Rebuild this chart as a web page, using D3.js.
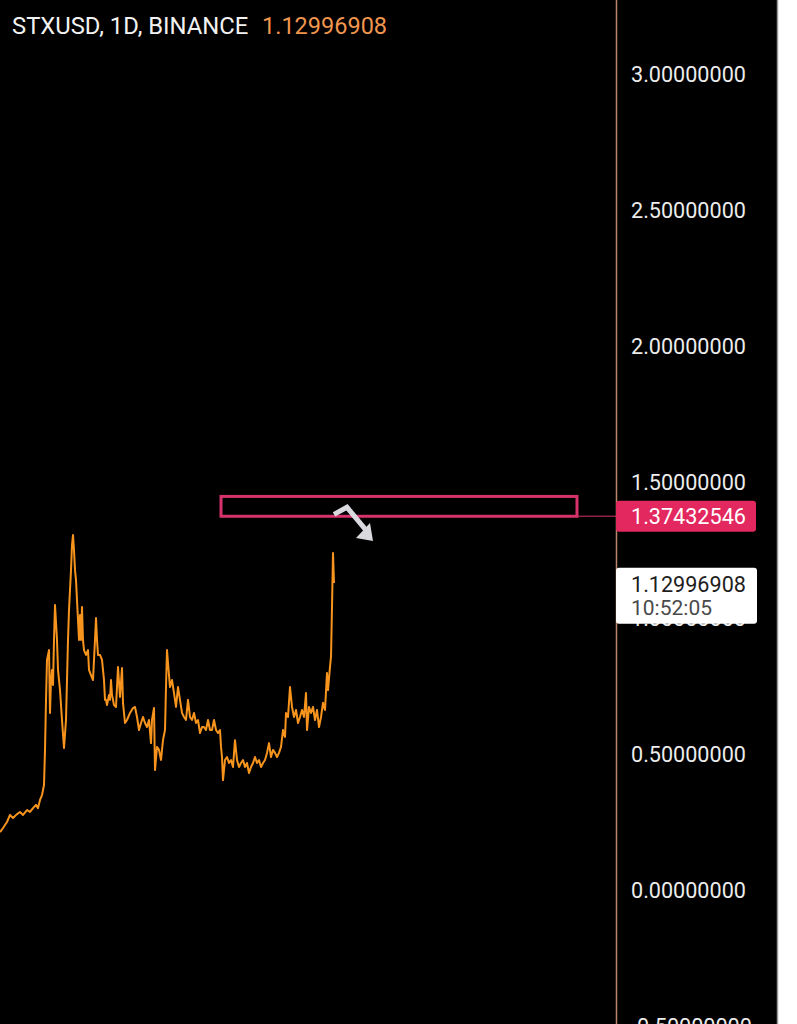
<!DOCTYPE html>
<html>
<head>
<meta charset="utf-8">
<script src="https://cdn.jsdelivr.net/npm/d3@7"></script>
<style>
  html, body { margin: 0; padding: 0; background: #fff; }
  svg { display: block; }
</style>
</head>
<body>
<svg id="chart"></svg>
<script>
const width = 797, height = 1024;
const bg_color = "#000000", line_color = "#f7941d", axis_color = "#b9826a";
const label_color = "#ececec", zone_color = "#d6336c", arrow_color = "#d9d9de";
const font_family = "Roboto, 'Noto Sans', sans-serif";

// header
const symbolTitle = "STXUSD, 1D, BINANCE";
const lastPrice = 1.12996908;
const lastTime = "10:52:05";
const zonePrice = 1.37432546;

// price axis ticks
const tickValues = [3.0, 2.5, 2.0, 1.5, 1.0, 0.5, 0.0, -0.5];

// daily closes (day offset from first visible bar)
const days = [0, 3, 7, 10, 13, 17, 20, 23, 27, 30, 33, 36, 38, 40, 42, 44, 45, 46, 47, 48,
  49, 50, 51, 52, 53, 54, 55, 57, 58, 60, 62, 64, 66, 67, 68, 69, 70, 71, 72, 73,
  74, 75, 76, 77, 78, 79, 80, 81, 82, 83, 84, 86, 88, 89, 91, 93, 94, 95, 96, 97,
  98, 100, 102, 104, 105, 106, 107, 109, 110, 111, 112, 113, 114, 116, 118, 120, 122, 123, 125, 127,
  130, 133, 135, 137, 139, 141, 143, 145, 147, 149, 151, 152, 154, 155, 157, 159, 161, 163, 165, 166,
  167, 168, 170, 172, 174, 176, 178, 180, 182, 184, 186, 188, 190, 192, 194, 196, 198, 200, 202, 204,
  206, 208, 210, 212, 214, 216, 218, 220, 221, 222, 223, 225, 227, 229, 231, 233, 235, 237, 239, 241,
  243, 245, 247, 249, 251, 253, 255, 257, 259, 261, 263, 265, 267, 269, 271, 273, 275, 277, 279, 281,
  283, 285, 286, 288, 290, 292, 294, 296, 298, 300, 302, 304, 306, 307, 309, 311, 313, 315, 317, 319,
  321, 323, 325, 327, 328, 330, 331, 332, 333, 334];
const closes = [0.213, 0.228, 0.250, 0.276, 0.265, 0.279, 0.287, 0.276, 0.294, 0.287, 0.301, 0.313, 0.301, 0.331, 0.349, 0.386, 0.515, 0.699, 0.846, 0.864,
  0.882, 0.651, 0.772, 0.809, 0.754, 0.919, 1.048, 0.919, 0.809, 0.735, 0.625, 0.522, 0.625, 0.772, 0.919, 1.029, 1.103, 1.176, 1.268, 1.305,
  1.250, 1.176, 1.140, 1.066, 0.993, 0.919, 1.011, 0.919, 1.040, 0.919, 0.882, 0.864, 0.882, 0.809, 0.790, 0.772, 0.846, 0.919, 1.000, 0.919,
  0.864, 0.864, 0.846, 0.772, 0.699, 0.699, 0.680, 0.717, 0.699, 0.772, 0.717, 0.699, 0.680, 0.673, 0.820, 0.710, 0.816, 0.688, 0.614, 0.625,
  0.651, 0.669, 0.673, 0.636, 0.588, 0.614, 0.636, 0.614, 0.599, 0.625, 0.540, 0.625, 0.669, 0.441, 0.526, 0.515, 0.478, 0.551, 0.588, 0.746,
  0.882, 0.835, 0.746, 0.772, 0.724, 0.673, 0.746, 0.699, 0.651, 0.636, 0.625, 0.699, 0.636, 0.625, 0.651, 0.614, 0.625, 0.577, 0.599, 0.599,
  0.588, 0.625, 0.588, 0.588, 0.625, 0.588, 0.577, 0.588, 0.526, 0.489, 0.404, 0.478, 0.489, 0.467, 0.478, 0.452, 0.551, 0.478, 0.452, 0.467,
  0.478, 0.452, 0.467, 0.430, 0.452, 0.467, 0.489, 0.467, 0.478, 0.452, 0.467, 0.478, 0.504, 0.540, 0.489, 0.515, 0.504, 0.489, 0.504, 0.526,
  0.588, 0.563, 0.651, 0.636, 0.746, 0.673, 0.636, 0.662, 0.614, 0.636, 0.662, 0.636, 0.724, 0.588, 0.673, 0.651, 0.673, 0.625, 0.662, 0.599,
  0.636, 0.688, 0.662, 0.798, 0.735, 0.820, 0.857, 1.040, 1.239, 1.129];

// drawn zone (day range + price range) and arrow (day, price)
const zoneDays = [221, 577];
const zonePrices = [1.447, 1.374];
const arrowPath = [[334, 1.381], [347, 1.407], [366, 1.323]];
const arrowHead = [[356, 1.294], [373, 1.283], [370, 1.349]];

const plotRight = 616, viewRight = 777;

const svg = d3.select("#chart")
  .attr("width", width)
  .attr("height", height);

const x = d3.scaleLinear().domain([0, plotRight]).range([0, plotRight]);
const y = d3.scaleLinear().domain([0, 3]).range([890, 74]);

////////////////////////////////////
//          Background            //
////////////////////////////////////

svg.append("rect")
  .attr("width", viewRight).attr("height", height)
  .attr("fill", bg_color);
svg.append("line")
  .attr("x1", viewRight + 0.5).attr("x2", viewRight + 0.5)
  .attr("y1", 0).attr("y2", height)
  .attr("stroke", "#9a9a9a").attr("stroke-width", 1.5);

////////////////////////////////////
//          Price Line            //
////////////////////////////////////

const series = days.map((d, i) => ({ day: d, close: closes[i] }));
const line = d3.line().x(d => x(d.day)).y(d => y(d.close));

svg.append("path")
  .datum(series)
  .attr("d", line)
  .attr("fill", "none")
  .attr("stroke", line_color)
  .attr("stroke-width", 2)
  .attr("stroke-linejoin", "round");

////////////////////////////////////
//        Drawing: zone/arrow     //
////////////////////////////////////

svg.append("rect")
  .attr("x", x(zoneDays[0]))
  .attr("y", y(zonePrices[0]))
  .attr("width", x(zoneDays[1]) - x(zoneDays[0]))
  .attr("height", y(zonePrices[1]) - y(zonePrices[0]))
  .attr("fill", "none")
  .attr("stroke", zone_color)
  .attr("stroke-width", 3);

svg.append("line")
  .attr("x1", x(zoneDays[1])).attr("x2", plotRight)
  .attr("y1", y(zonePrice)).attr("y2", y(zonePrice))
  .attr("stroke", zone_color).attr("stroke-width", 1);

svg.append("path")
  .attr("d", d3.line().x(d => x(d[0])).y(d => y(d[1]))(arrowPath))
  .attr("fill", "none")
  .attr("stroke", arrow_color)
  .attr("stroke-width", 5)
  .attr("stroke-linejoin", "miter");
svg.append("path")
  .attr("d", d3.line().x(d => x(d[0])).y(d => y(d[1]))(arrowHead) + "Z")
  .attr("fill", arrow_color);

////////////////////////////////////
//          Price Axis            //
////////////////////////////////////

svg.append("line")
  .attr("x1", plotRight + 0.5).attr("x2", plotRight + 0.5)
  .attr("y1", 0).attr("y2", height)
  .attr("stroke", axis_color).attr("stroke-width", 1.5);

svg.selectAll("text.tick")
  .data(tickValues)
  .enter()
  .append("text")
  .attr("class", "tick")
  .attr("x", 631)
  .attr("y", d => y(d))
  .attr("dy", "0.36em")
  .attr("font-family", font_family)
  .attr("font-size", "21.6px")
  .attr("fill", label_color)
  .text(d => d3.format(".8f")(d).replace("−", "-"));

// zone price label
svg.append("rect")
  .attr("x", plotRight).attr("y", y(zonePrice) - 15.5)
  .attr("width", 140).attr("height", 31).attr("rx", 3)
  .attr("fill", "#e2285f");
svg.append("text")
  .attr("x", 631).attr("y", y(zonePrice))
  .attr("dy", "0.36em")
  .attr("font-family", font_family).attr("font-size", "21.6px")
  .attr("fill", "#ffffff")
  .text(d3.format(".8f")(zonePrice));

// current price label
const lastY = y(lastPrice);
svg.append("rect")
  .attr("x", plotRight).attr("y", lastY - 15)
  .attr("width", 141).attr("height", 56).attr("rx", 3)
  .attr("fill", "#ffffff");
svg.append("text")
  .attr("x", 631).attr("y", lastY + 2)
  .attr("dy", "0.36em")
  .attr("font-family", font_family).attr("font-size", "21.6px")
  .attr("fill", "#1e1e1e")
  .text(d3.format(".8f")(lastPrice));
svg.append("text")
  .attr("x", 631).attr("y", lastY + 25)
  .attr("dy", "0.36em")
  .attr("font-family", font_family).attr("font-size", "21px")
  .attr("fill", "#4a4a4a")
  .text(lastTime);

////////////////////////////////////
//             Header             //
////////////////////////////////////

svg.append("text")
  .attr("x", 12).attr("y", 34)
  .attr("font-family", font_family)
  .attr("font-size", "23.8px")
  .attr("fill", "#f2f2f2")
  .text(symbolTitle);
svg.append("text")
  .attr("x", 262).attr("y", 34)
  .attr("font-family", font_family)
  .attr("font-size", "23.5px")
  .attr("fill", "#f0954e")
  .text(d3.format(".8f")(lastPrice));
</script>
</body>
</html>
